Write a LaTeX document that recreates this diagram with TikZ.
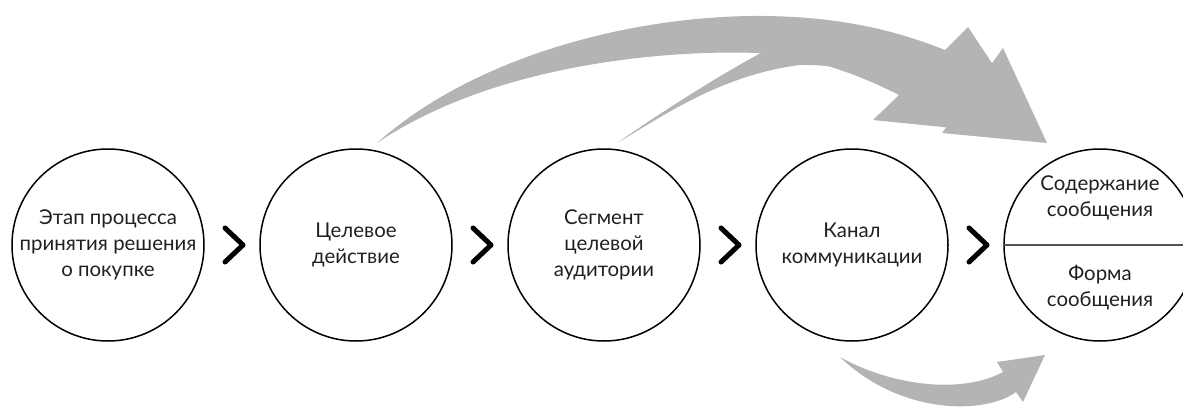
\documentclass[tikz,border=0pt]{standalone}
\usepackage{fontspec}
\setmainfont{Lato}
\usetikzlibrary{positioning,calc}
\definecolor{arrowgray}{RGB}{178,180,182}
\definecolor{ink}{RGB}{35,31,32}
\definecolor{divgray}{RGB}{85,85,85}
\tikzset{
    stage/.style={circle, draw=black, line width=0.75pt, minimum size=96pt,
        inner sep=0pt, align=center, text=ink,
        font=\fontsize{10.2}{13}\selectfont},
    msgtext/.style={align=center, text=ink, inner sep=0pt,
        font=\fontsize{10.2}{13}\selectfont},
    chevron/.style={line width=2.5pt, line cap=round, line join=round},
    divider/.style={divgray, line width=1.1pt}
}

\begin{document}
\begin{tikzpicture}[x=0.5pt, y=-0.5pt]

    \useasboundingbox (0, 0) rectangle (1183, 407);
    \clip (0, 0) rectangle (1183, 407);

    % big arrow from the second circle
    \fill[arrowgray]
        (377, 143) .. controls (470, 60) and (620, 18) .. (750, 16)
        .. controls (840, 15) and (900, 32) .. (945, 50) --
        (968, 27) -- (1041, 137) -- (873, 120) -- (899, 95)
        .. controls (850, 70) and (800, 55) .. (757, 53)
        .. controls (680, 50) and (500, 60) .. (377, 143) -- cycle;

    % arrow from the third circle
    \fill[arrowgray]
        (617, 143) .. controls (650, 120) and (710, 80) .. (770, 48)
        .. controls (880, 40) and (950, 55) .. (990, 66) --
        (1003, 48) -- (1047, 143) -- (942, 133) -- (960, 108)
        .. controls (900, 80) and (850, 64) .. (800, 65)
        .. controls (720, 75) and (660, 118) .. (617, 143) -- cycle;

    % lower arrow from the fourth circle
    \fill[arrowgray]
        (840, 357) .. controls (890, 385) and (960, 395) .. (1003, 372) --
        (997, 362) -- (1045, 355) -- (1023, 402) -- (1016, 392)
        .. controls (985, 415) and (900, 415) .. (840, 357) -- cycle;

    \node[stage] (stage) at (108, 245)
        {Этап процесса\\принятия решения\\о покупке};
    \node[stage, right=27.25pt of stage] (action) {Целевое\\действие};
    \node[stage, right=27.25pt of action] (segment)
        {Сегмент\\целевой\\аудитории};
    \node[stage, right=27.25pt of segment] (channel) {Канал\\коммуникации};
    \node[stage, right=27.25pt of channel] (message) {};

    \draw[divider] (message.west) -- (message.east);
    \node[msgtext] (content) at ($(message.center)+(0, -47)$)
        {Содержание\\сообщения};
    \node[msgtext] (form) at ($(message.center)+(0, 43)$)
        {Форма\\сообщения};

    \foreach \from/\to in {stage/action, action/segment,
            segment/channel, channel/message} {%
        \coordinate (gap) at ($(\from.east)!0.5!(\to.west)$);
        \draw[chevron] ($(gap)+(-7, -17)$) -- ($(gap)+(11, 0)$)
            -- ($(gap)+(-7, 17)$);
    };

\end{tikzpicture}
\end{document}
